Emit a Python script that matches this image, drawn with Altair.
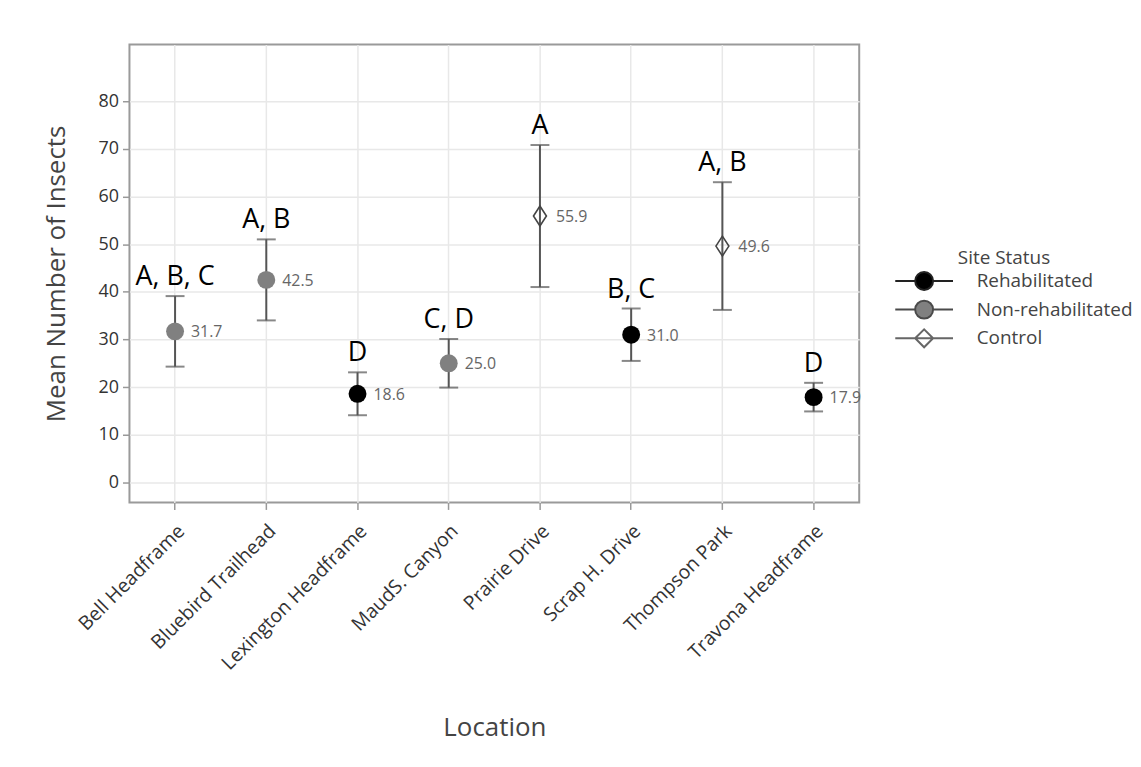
import altair as alt
import pandas as pd

locations = ["Bell Headframe", "Bluebird Trailhead", "Lexington Headframe", "MaudS. Canyon",
             "Prairie Drive", "Scrap H. Drive", "Thompson Park", "Travona Headframe"]
means = [31.7, 42.5, 18.6, 25.0, 55.9, 31.0, 49.6, 17.9]
upper = [39.1, 51.0, 23.1, 30.1, 70.8, 36.5, 63.0, 20.9]
lower = [24.3, 34.0, 14.1, 19.9, 41.0, 25.5, 36.2, 14.9]
letters = ["A, B, C", "A, B", "D", "C, D", "A", "B, C", "A, B", "D"]
status = ["Non-rehabilitated", "Non-rehabilitated", "Rehabilitated", "Non-rehabilitated",
          "Control", "Rehabilitated", "Control", "Rehabilitated"]
y_ticks = [0, 10, 20, 30, 40, 50, 60, 70, 80]

status_order = ["Rehabilitated", "Non-rehabilitated", "Control"]
fill_colors = ["#000000", "#808080", "transparent"]
stroke_colors = ["#222222", "#4a4a4a", "#666666"]

# legend symbols (legend symbol size 4 -> path units are pixels): line with marker
c = -43.3
L = 29
r = 9
circle_path = (f"M{c-L},0H{c-r}M{c+r},0H{c+L}"
               f"M{c-r},0A{r},{r},0,1,1,{c+r},0A{r},{r},0,1,1,{c-r},0Z")
d = 9
diamond_path = (f"M{c-L},0H{c+L}"
                f"M{c-d},0L{c},{-d}L{c+d},0L{c},{d}Z")
shape_paths = [circle_path, circle_path, diamond_path]
# open diamond marker used in the plot (a little taller than wide)
plot_diamond = "M-0.65,0L0,-1L0.65,0L0,1Z"

df = pd.DataFrame({
    "location": locations,
    "mean": means,
    "upper": upper,
    "lower": lower,
    "letter": letters,
    "status": status,
    "label": [f"{m:.1f}" for m in means],
})

FONT = "Open Sans"

x_enc = alt.X(
    "location:N", sort=locations, title="Location",
    scale=alt.Scale(paddingInner=0, paddingOuter=0),
    axis=alt.Axis(labelAngle=-45, labelAlign="right", labelBaseline="top",
                  labelFontSize=19.5, labelColor="#333333", labelFont=FONT,
                  labelLimit=0, labelPadding=12, tickSize=7, tickColor="#999999",
                  tickWidth=1.5, domain=False, grid=True, gridColor="#e8e8e8",
                  gridWidth=1.5, titleFont=FONT, titleFontSize=26,
                  titleFontWeight="normal", titleColor="#444444", titlePadding=42),
)
y_scale = alt.Scale(domain=[-4.2, 91.9], nice=False, zero=False)
y_axis = alt.Axis(values=y_ticks, title="Mean Number of Insects",
                  labelFontSize=18, labelColor="#333333", labelFont=FONT,
                  labelPadding=4, tickSize=7, tickColor="#999999", tickWidth=1.5,
                  domain=False, grid=True, gridColor="#e8e8e8", gridWidth=1.5,
                  titleFont=FONT, titleFontSize=26, titleFontWeight="normal",
                  titleColor="#444444", titlePadding=29)

legend = alt.Legend(title="Site Status", orient="none",
                    legendX=832, legendY=205,
                    titleFont=FONT, titleFontSize=19, titleFontWeight="normal",
                    titleColor="#444444", titlePadding=4,
                    labelFont=FONT, labelFontSize=19, labelColor="#444444",
                    labelOffset=0, symbolSize=4, symbolStrokeWidth=2,
                    rowPadding=1.8)

fill_scale = alt.Scale(domain=status_order, range=fill_colors)
stroke_scale = alt.Scale(domain=status_order, range=stroke_colors)
shape_scale = alt.Scale(domain=status_order, range=shape_paths)

base = alt.Chart(df)

rules = base.mark_rule(color="#555555", strokeWidth=2).encode(
    x=x_enc,
    y=alt.Y("lower:Q", scale=y_scale, axis=y_axis),
    y2="upper:Q",
)
caps_up = base.mark_tick(color="#555555", thickness=2, size=19).encode(
    x=alt.X("location:N", sort=locations), y=alt.Y("upper:Q"))
caps_lo = base.mark_tick(color="#555555", thickness=2, size=19).encode(
    x=alt.X("location:N", sort=locations), y=alt.Y("lower:Q"))

legend_layer = base.transform_filter("false").mark_point(filled=True, opacity=1).encode(
    x=alt.X("location:N", sort=locations),
    y=alt.Y("mean:Q"),
    fill=alt.Fill("status:N", scale=fill_scale, legend=legend),
    stroke=alt.Stroke("status:N", scale=stroke_scale, legend=legend),
    shape=alt.Shape("status:N", scale=shape_scale, legend=legend),
)

circles = base.transform_filter(alt.datum.status != "Control").mark_point(
    filled=True, shape="circle", size=324, opacity=1, strokeWidth=0).encode(
    x=alt.X("location:N", sort=locations),
    y=alt.Y("mean:Q"),
    fill=alt.Fill("status:N", scale=fill_scale, legend=legend),
)

diamonds = base.transform_filter(alt.datum.status == "Control").mark_point(
    filled=False, shape=plot_diamond, size=400, opacity=1,
    stroke="#444444", strokeWidth=1.6).encode(
    x=alt.X("location:N", sort=locations),
    y=alt.Y("mean:Q"),
)

letter_text = base.mark_text(font=FONT, fontSize=27, color="#000000",
                             baseline="alphabetic", dy=-11).encode(
    x=alt.X("location:N", sort=locations),
    y=alt.Y("upper:Q"),
    text="letter:N",
)

value_text = base.mark_text(font=FONT, fontSize=16, color="#666666",
                            align="left", baseline="middle", dx=16, dy=1).encode(
    x=alt.X("location:N", sort=locations),
    y=alt.Y("mean:Q"),
    text="label:N",
)

chart = alt.layer(
    rules, caps_up, caps_lo, legend_layer, circles, diamonds, letter_text, value_text
).properties(
    width=733, height=460,
    padding={"left": 35, "top": 35, "right": 0, "bottom": 5},
).configure(
    font=FONT
).configure_view(
    stroke="#9a9a9a", strokeWidth=2
)

chart.save("out.html", embed_options={"renderer": "svg", "actions": False})
